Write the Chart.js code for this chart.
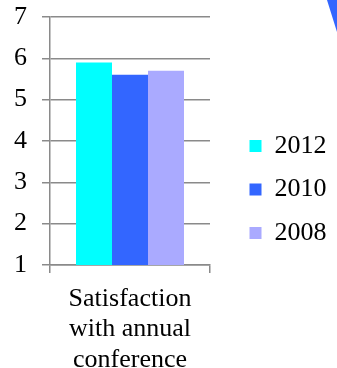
<!DOCTYPE html>
<html>
<head>
<meta charset="utf-8">
<script src="https://cdn.jsdelivr.net/npm/chart.js@4/dist/chart.umd.min.js"></script>
<style>
  html, body { margin: 0; padding: 0; background: #fff; }
  canvas { display: block; }
</style>
</head>
<body>
<canvas id="satisfactionChart" width="337" height="368"></canvas>
<script>
'use strict';

// ── Data ─────────────────────────────────────────────
const categories = [['Satisfaction', 'with annual', 'conference']];
const seriesLabels = ['2012', '2010', '2008'];
const seriesColors = ['#00FFFF', '#3366FF', '#AAAAFF'];
const values2012 = [5.9];
const values2010 = [5.6];
const values2008 = [5.7];
const yTicks = { min: 1, max: 7, step: 1 };

const axisGray = '#8a8a8a';
const serif = "'Liberation Serif', 'Times New Roman', serif";

// small blue corner shape in the top right
const cornerShape = {
    id: 'cornerShape',
    afterDraw(chart) {
        const ctx = chart.ctx;
        const w = chart.width;
        ctx.save();
        ctx.fillStyle = '#3366FF';
        ctx.beginPath();
        ctx.moveTo(w - 10, 0);
        ctx.lineTo(w, 0);
        ctx.lineTo(w, 32);
        ctx.closePath();
        ctx.fill();
        ctx.restore();
    }
};

const seriesData = [values2012, values2010, values2008];

new Chart(document.getElementById('satisfactionChart'), {
    type: 'bar',
    data: {
        labels: categories,
        datasets: seriesLabels.map((label, i) => ({
            label: label,
            data: seriesData[i],
            backgroundColor: seriesColors[i],
            borderWidth: 0,
            categoryPercentage: 0.675,
            barPercentage: 1.0
        }))
    },
    options: {
        responsive: false,
        animation: false,
        layout: { padding: { top: 11, bottom: 0, left: 0, right: 0.5 } },
        scales: {
            x: {
                grid: {
                    drawOnChartArea: false,
                    drawTicks: true,
                    tickLength: 8,
                    color: axisGray,
                    lineWidth: 1.5
                },
                border: { color: axisGray, width: 1.5 },
                ticks: {
                    color: '#000',
                    padding: 11,
                    maxRotation: 0,
                    font: { family: serif, size: 26, lineHeight: 1.17 }
                },
                afterFit: (scale) => { scale.height = 103; }
            },
            y: {
                min: yTicks.min,
                max: yTicks.max,
                ticks: {
                    stepSize: yTicks.step,
                    color: '#000',
                    padding: 15,
                    font: { family: serif, size: 26 }
                },
                grid: {
                    color: axisGray,
                    lineWidth: 1.5,
                    tickLength: 8
                },
                border: { color: axisGray, width: 1.5 },
                afterFit: (scale) => {
                    scale.width = 50;
                    scale.paddingTop = 17;
                    scale.paddingBottom = 0;
                }
            },
            // empty spacer between plot and legend
            gap: {
                type: 'linear',
                position: 'right',
                display: true,
                grid: { display: false },
                border: { display: false },
                ticks: { display: false },
                afterFit: (scale) => { scale.width = 22; }
            }
        },
        plugins: {
            legend: {
                position: 'right',
                align: 'center',
                maxWidth: 140,
                labels: {
                    boxWidth: 12,
                    boxHeight: 12,
                    padding: 17.5,
                    color: '#000',
                    font: { family: serif, size: 26 }
                }
            },
            tooltip: { enabled: false }
        }
    },
    plugins: [cornerShape]
});
</script>
</body>
</html>
